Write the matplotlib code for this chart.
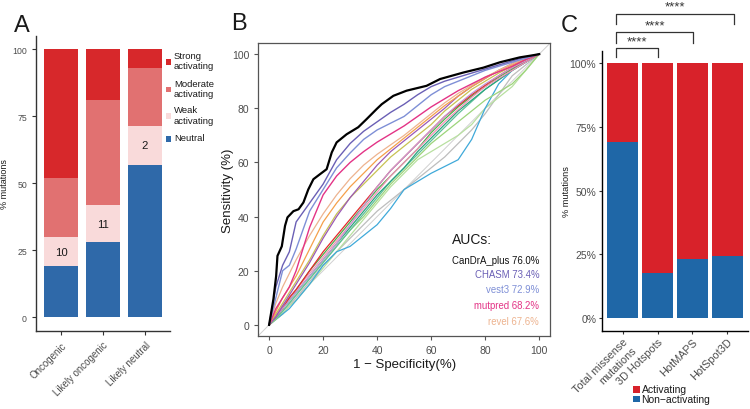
import matplotlib
matplotlib.use('Agg')
import matplotlib.pyplot as plt
from matplotlib.patches import Rectangle
import numpy as np

plt.rcParams['font.family'] = ['Liberation Sans', 'DejaVu Sans']

# ---------------- Panel A data ----------------
a_categories = ['Oncogenic', 'Likely oncogenic', 'Likely neutral']
a_neutral = [19, 28, 57]
a_weak = [11, 14, 14.5]
a_moderate = [22, 39, 21.5]
a_strong = [48, 19, 7]
a_weak_labels = ['10', '11', '2']
a_legend = ['Strong\nactivating', 'Moderate\nactivating', 'Weak\nactivating', 'Neutral']

# ---------------- Panel B data ----------------
fpr_grid = [0, 2.5, 5, 7.5, 10, 15, 20, 25, 30, 35, 40, 45, 50, 55, 60, 65, 70, 75, 80, 85, 90, 95, 100]
candra_fpr = [0, 1.6, 2.6, 3.1, 4.7, 5.9, 6.8, 9, 10.9, 12.7, 14.5, 16.4, 18.9, 21.3, 23.2, 25, 28.7,
              33, 36.1, 39.8, 41.7, 46, 50.9, 58.3, 63.3, 71.9, 79.3, 85.5, 92.8, 97.8, 100]
candra_tpr = [0, 9.5, 18, 25.5, 29, 36.6, 39.7, 42, 42.7, 45.2, 50, 53.8, 55.7, 57.5, 63.7, 67.4, 70.4,
              73, 76, 79.7, 81.5, 84.6, 86.5, 88.3, 90.8, 93.2, 95, 97, 98.8, 99.6, 100]
chasm_tpr = [0, 14, 22, 27, 38, 45, 52, 61, 67, 71.5, 75, 78.5, 81.5, 85, 88, 90, 91.5, 93, 94.5, 96, 97.5, 99, 100]
vest3_tpr = [0, 10, 20, 22, 28, 42, 50, 58, 63.5, 68.5, 72, 74.5, 77, 81, 85, 88, 90, 92, 94, 95.5, 97, 98.5, 100]
mutpred_tpr = [0, 6, 10, 14, 20, 36, 48, 55, 60, 64, 67.5, 70.5, 73.5, 77, 80.5, 83.5, 86.5, 89, 91.5, 93.5, 95.5, 98, 100]
revel_tpr = [0, 8, 14, 19, 24, 33, 41, 48, 54, 59, 63, 66.5, 70, 74, 78, 82, 85.5, 88.5, 91.5, 94, 96.5, 98.5, 100]
other_orange = [0, 5, 10, 14, 18, 28, 38, 45, 51, 56, 61, 65, 69, 73, 77, 81, 84.5, 88, 91, 94, 96, 98, 100]
other_purple = [0, 3, 7, 11, 15, 23, 32, 40, 47, 53, 59, 64, 68, 72, 76, 80, 84.5, 88, 91, 94, 96.5, 98.5, 100]
other_olive = [0, 4, 8, 12, 16, 24, 33, 41, 47, 52, 57, 62, 66, 70, 74, 79, 83, 87, 90, 93, 95.5, 98, 100]
other_red = [0, 3, 6, 10, 13, 20, 27, 33, 39, 45, 51, 57, 62, 67, 72, 77, 81, 85, 88.5, 92, 95, 97.5, 100]
other_green = [0, 3, 7, 10, 13, 20, 26, 32, 38, 44, 50, 55, 60, 65, 71, 76, 80.5, 84.5, 88, 91.5, 94.5, 97.5, 100]
other_teal = [0, 3, 6, 9, 12, 18, 24, 30, 36, 42, 48, 53, 58, 64, 69, 74, 79, 83, 87, 90.5, 94, 97, 100]
other_lightgreen = [0, 2, 5, 8, 11, 17, 23, 29, 35, 40, 46, 52, 57, 62, 67, 71, 75, 79, 83, 86, 89, 94, 100]
other_pink = [0, 4, 7, 10, 13, 19, 25, 31, 37, 43, 49, 55, 60, 65, 70, 75, 79.5, 84, 88, 91, 94, 97, 100]
other_seagreen = [0, 2.5, 5, 8, 11, 17, 23, 29, 35, 41, 47, 53, 58, 63, 68, 73, 78, 82.5, 87, 90.5, 94, 97, 100]
other_lilac = [0, 3, 6, 9, 12, 18, 24, 30, 37, 44, 51, 57, 62, 67, 72, 77, 81.5, 85.5, 89, 92, 95, 97.5, 100]
other_grey = [0, 2, 4, 7, 10, 16, 22, 27, 32, 37, 42, 46, 50, 54, 58, 62, 67, 72, 78, 85, 92, 96, 100]
other_palegreen = [0, 2, 4, 7, 9, 15, 21, 27, 33, 39, 45, 51, 56, 61, 64, 67, 70, 74, 80, 84, 88, 94, 100]
other_cyan = [0, 2, 4, 6, 9, 15, 22, 27, 29, 33, 37, 43, 50, 53, 56, 58.5, 61, 68.5, 80, 89, 94, 97, 100]
auc_labels = ['CanDrA_plus 76.0%', 'CHASM 73.4%', 'vest3 72.9%', 'mutpred 68.2%', 'revel 67.6%']

# ---------------- Panel C data ----------------
c_categories = ['Total missense\nmutations', '3D Hotspots', 'HotMAPS', 'HotSpot3D']
c_nonactivating = [69, 17.7, 23.2, 24.2]
c_activating = [100 - v for v in c_nonactivating]
c_brackets_right = [2.01, 3.03, 4.18]
c_bracket_labels = ['****', '****', '****']

W, H = 750, 410
fig = plt.figure(figsize=(W / 100, H / 100), dpi=100)


def fx(px):
    return px / W


def fy(py):
    return 1 - py / H


def axes_px(left, top, right, bottom):
    return fig.add_axes([fx(left), fy(bottom), (right - left) / W, (bottom - top) / H])


# colors
col_strong = '#D7282B'
col_mod = '#E17171'
col_weak = '#F9DADA'
col_neutral = '#2F69A9'
tick_col = '#4D4D4D'
txt_col = '#1a1a1a'

# ================= Panel A =================
axA = axes_px(36, 37, 170, 331.7)
xa = np.arange(1, len(a_categories) + 1)
bottoms = np.zeros(len(xa))
for vals, col in [(a_neutral, col_neutral), (a_weak, col_weak), (a_moderate, col_mod), (a_strong, col_strong)]:
    axA.bar(xa, vals, width=0.8, bottom=bottoms, color=col, edgecolor='none')
    bottoms = bottoms + np.array(vals)
for i, lab in enumerate(a_weak_labels):
    axA.text(xa[i], a_neutral[i] + a_weak[i] / 2, lab, ha='center', va='center', fontsize=8.2, color=txt_col)
axA.set_xlim(0.4, 3.6)
axA.set_ylim(-5, 105)
axA.set_yticks([0, 25, 50, 75, 100])
axA.set_xticks(xa)
axA.set_xticklabels(a_categories, rotation=45, ha='right', va='top', rotation_mode='anchor', fontsize=7)
for s in ['top', 'right']:
    axA.spines[s].set_visible(False)
for s in ['left', 'bottom']:
    axA.spines[s].set_color('#333333')
    axA.spines[s].set_linewidth(1.0)
axA.tick_params(axis='both', colors='#333333', labelcolor=tick_col, length=3, width=0.8)
axA.tick_params(axis='y', labelsize=6.3)
axA.set_ylabel('% mutations', fontsize=6.5, color=txt_col)
axA.yaxis.set_label_coords(-0.205, 0.5)

# legend A (manual)
leg_sq_y = [62.8, 90.5, 117.2, 140]
leg_cols = [col_strong, col_mod, col_weak, col_neutral]
for yy, col, lab in zip(leg_sq_y, leg_cols, a_legend):
    fig.patches.append(Rectangle((fx(165.5), fy(yy + 2.9)), 5.8 / W, 5.8 / H, transform=fig.transFigure,
                                 facecolor=col, edgecolor='none'))
    fig.text(fx(174), fy(yy - 1.2), lab, ha='left', va='center', fontsize=6.8, linespacing=1.15, color=txt_col)

# ================= Panel B =================
axB = axes_px(258.3, 44.3, 550, 336.7)
axB.axline((0, 0), slope=1, color='#D0D0D0', lw=0.7, zorder=1)
others = [
    (other_grey, '#BDBDBD'), (other_palegreen, '#B8E0A0'), (other_cyan, '#3FA9D9'),
    (other_lightgreen, '#9CD47A'), (other_seagreen, '#5FBF9A'), (other_teal, '#2AA37E'),
    (other_green, '#4DAF4A'), (other_pink, '#F590B8'), (other_red, '#E4292B'),
    (other_lilac, '#C49BD6'), (other_olive, '#C8C253'), (other_purple, '#9B59B6'),
    (other_orange, '#F5A04A'),
]
for tpr, col in others:
    axB.plot(fpr_grid, tpr, color=col, lw=0.9, zorder=2)
axB.plot(fpr_grid, revel_tpr, color='#EDB38F', lw=0.9, zorder=3)
axB.plot(fpr_grid, mutpred_tpr, color='#E33386', lw=1.0, zorder=3)
axB.plot(fpr_grid, vest3_tpr, color='#7E8FD6', lw=1.0, zorder=3)
axB.plot(fpr_grid, chasm_tpr, color='#6A5FB5', lw=1.0, zorder=3)
axB.plot(candra_fpr, candra_tpr, color='black', lw=1.6, zorder=4)
axB.set_xlim(-4, 104)
axB.set_ylim(-4, 104)
axB.set_xticks([0, 20, 40, 60, 80, 100])
axB.set_yticks([0, 20, 40, 60, 80, 100])
for s in axB.spines.values():
    s.set_color('#555555')
    s.set_linewidth(0.9)
axB.tick_params(axis='both', colors='#555555', labelcolor=tick_col, labelsize=7.5, length=3, width=0.8)
axB.set_xlabel('1 \u2212 Specificity(%)', fontsize=9.5, color=txt_col, labelpad=2)
axB.set_ylabel('Sensitivity (%)', fontsize=9.5, color=txt_col)
axB.yaxis.set_label_coords(-0.085, 0.5)
axB.text(67.6, 31.7, 'AUCs:', fontsize=10, ha='left', va='center', color=txt_col)
auc_cols = ['#111111', '#6A5FB5', '#7E8FD6', '#E33386', '#EDB38F']
auc_y = [24, 18.8, 13.2, 7.4, 1.6]
for lab, col, yy in zip(auc_labels, auc_cols, auc_y):
    axB.text(100, yy, lab, fontsize=6.9, ha='right', va='center', color=col)

# ================= Panel C =================
axC = axes_px(601.7, 51.7, 748.3, 331.7)
xc = np.arange(1, len(c_categories) + 1)
col_act = '#D8222A'
col_non = '#1F67A7'
axC.bar(xc, c_nonactivating, width=0.9, color=col_non, edgecolor='none')
axC.bar(xc, c_activating, width=0.9, bottom=c_nonactivating, color=col_act, edgecolor='none')
axC.set_xlim(0.4, 4.6)
axC.set_ylim(-5, 105)
axC.set_yticks([0, 25, 50, 75, 100])
axC.set_yticklabels(['0%', '25%', '50%', '75%', '100%'])
axC.set_xticks(xc)
axC.set_xticklabels(c_categories, rotation=45, ha='right', va='top', rotation_mode='anchor',
                    multialignment='right', fontsize=7.8)
for s in ['top', 'right']:
    axC.spines[s].set_visible(False)
for s in ['left', 'bottom']:
    axC.spines[s].set_color('black')
    axC.spines[s].set_linewidth(1.0)
axC.tick_params(axis='both', colors='#333333', labelcolor=tick_col, length=2.5, width=0.8, pad=1.5)
axC.tick_params(axis='y', labelsize=7.5)
axC.set_ylabel('% mutations', fontsize=6.6, color=txt_col)
axC.yaxis.set_label_coords(-0.209, 0.5)

# significance brackets
br_y = [105.9, 112.3, 119.5]
br_drop = [102.6, 108.2, 115.4]
x_left = 0.81
for xr, yt, yd, lab in zip(c_brackets_right, br_y, br_drop, c_bracket_labels):
    axC.plot([x_left, x_left, xr, xr], [yd, yt, yt, yd], color='#333333', lw=0.9, clip_on=False)
    axC.text((x_left + xr) / 2, yt + 0.4, lab, ha='center', va='bottom', fontsize=9.5, color='#333333')

# legend C
for yy, col, lab in [(390.5, col_act, 'Activating'), (400, col_non, 'Non\u2212activating')]:
    fig.patches.append(Rectangle((fx(633.3), fy(yy + 3.3)), 6.6 / W, 6.6 / H, transform=fig.transFigure,
                                 facecolor=col, edgecolor='none'))
    fig.text(fx(641.5), fy(yy), lab, ha='left', va='center', fontsize=7.5, color=txt_col)

# panel letters
fig.text(fx(14), fy(31.7), 'A', fontsize=17, ha='left', va='baseline', color=txt_col)
fig.text(fx(231), fy(30), 'B', fontsize=17, ha='left', va='baseline', color=txt_col)
fig.text(fx(561), fy(31.7), 'C', fontsize=17, ha='left', va='baseline', color=txt_col)

fig.savefig('out.png', dpi=100)
